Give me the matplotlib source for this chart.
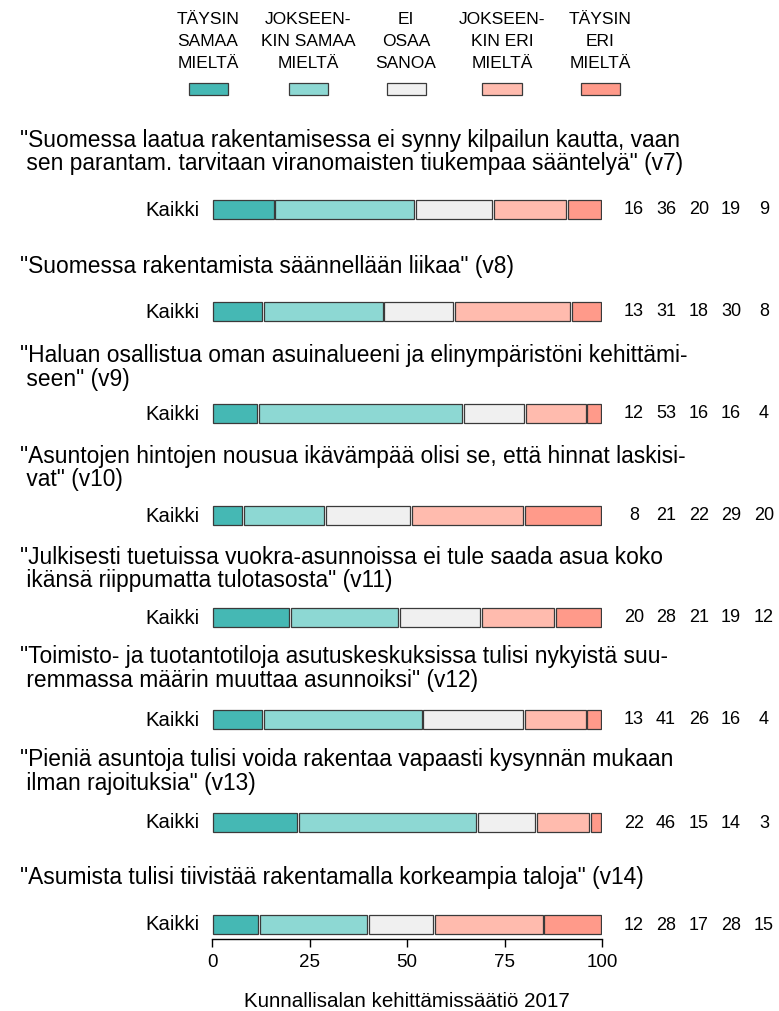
import matplotlib
matplotlib.use("Agg")
import matplotlib.pyplot as plt
from matplotlib.patches import Rectangle

plt.rcParams['font.family'] = ['Liberation Sans', 'DejaVu Sans']

# ---------------- data ----------------
categories = ["TÄYSIN\nSAMAA\nMIELTÄ", "JOKSEEN-\nKIN SAMAA\nMIELTÄ", "EI\nOSAA\nSANOA",
              "JOKSEEN-\nKIN ERI\nMIELTÄ", "TÄYSIN\nERI\nMIELTÄ"]
colors = ["#45B8B4", "#8DD8D3", "#F0F0F0", "#FFBBAE", "#FF9A8A"]

questions = [
    '"Suomessa laatua rakentamisessa ei synny kilpailun kautta, vaan\n sen parantam. tarvitaan viranomaisten tiukempaa sääntelyä" (v7)',
    '"Suomessa rakentamista säännellään liikaa" (v8)',
    '"Haluan osallistua oman asuinalueeni ja elinympäristöni kehittämi-\n seen" (v9)',
    '"Asuntojen hintojen nousua ikävämpää olisi se, että hinnat laskisi-\n vat" (v10)',
    '"Julkisesti tuetuissa vuokra-asunnoissa ei tule saada asua koko\n ikänsä riippumatta tulotasosta" (v11)',
    '"Toimisto- ja tuotantotiloja asutuskeskuksissa tulisi nykyistä suu-\n remmassa määrin muuttaa asunnoiksi" (v12)',
    '"Pieniä asuntoja tulisi voida rakentaa vapaasti kysynnän mukaan\n ilman rajoituksia" (v13)',
    '"Asumista tulisi tiivistää rakentamalla korkeampia taloja" (v14)',
]
group_label = "Kaikki"
values = [
    [16, 36, 20, 19, 9],
    [13, 31, 18, 30, 8],
    [12, 53, 16, 16, 4],
    [8, 21, 22, 29, 20],
    [20, 28, 21, 19, 12],
    [13, 41, 26, 16, 4],
    [22, 46, 15, 14, 3],
    [12, 28, 17, 28, 15],
]
xticks = [0, 25, 50, 75, 100]
source = "Kunnallisalan kehittämissäätiö 2017"

# ---------------- layout (pixels) ----------------
W, H = 779, 1012
X0, X1 = 212, 602          # pixel positions of 0 and 100
AX_TOP, AX_BOT = 100, 940
bar_y = [210, 312, 414, 516, 618, 720, 823, 925]
q_y = [140, 266, 356, 456, 557, 657, 760, 878]
q_line = 23.5
num_px = [634, 666, 699, 731, 764]
leg_x = [208, 308, 406, 502, 600]
leg_line_y = [19, 41, 63]

fig = plt.figure(figsize=(W / 100, H / 100), dpi=100)
fx = lambda px: px / W
fy = lambda py: 1 - py / H

ax = fig.add_axes([fx(X0), fy(AX_BOT), (X1 - X0) / W, (AX_BOT - AX_TOP) / H])
ax.set_xlim(0, 100)
ax.set_ylim(AX_BOT, AX_TOP)
ax.patch.set_alpha(0)
for s in ['left', 'right', 'top']:
    ax.spines[s].set_visible(False)
ax.spines['bottom'].set_bounds(0, 100)
ax.spines['bottom'].set_linewidth(1.0)
ax.set_yticks([])
ax.set_xticks(xticks)
ax.set_xticklabels([str(t) for t in xticks])
ax.tick_params(axis='x', length=5.5, width=1.0, labelsize=13.5, pad=4.5)

px_per_unit = (X1 - X0) / 100
gap = 0.45
for row, yc in zip(values, bar_y):
    total = sum(row)
    left = 0.0
    for v, c in zip(row, colors):
        w = v / total * 100
        ax.barh(yc, w - gap, left=left + gap / 2, height=19, color=c,
                edgecolor='#3a3a3a', linewidth=0.9)
        left += w
    ax.text((199 - X0) / px_per_unit, yc, group_label, ha='right', va='center',
            fontsize=14.6, clip_on=False)
    for v, px in zip(row, num_px):
        ax.text((px - X0) / px_per_unit, yc, str(v), ha='center', va='center',
                fontsize=13, clip_on=False)

for q, y in zip(questions, q_y):
    for i, line in enumerate(q.split('\n')):
        fig.text(fx(20), fy(y + i * q_line), line, ha='left', va='center', fontsize=16.4)

for lab, x, c in zip(categories, leg_x, colors):
    for line, y in zip(lab.split('\n'), leg_line_y):
        fig.text(fx(x), fy(y), line, ha='center', va='center', fontsize=12.5)
    fig.patches.append(Rectangle((fx(x - 19.5), fy(96)), 39 / W, 12 / H,
                                 transform=fig.transFigure, facecolor=c,
                                 edgecolor='#3a3a3a', linewidth=0.9))

fig.text(fx(407), fy(1002), source, ha='center', va='center', fontsize=14.8)

fig.savefig("out.png", dpi=100)
